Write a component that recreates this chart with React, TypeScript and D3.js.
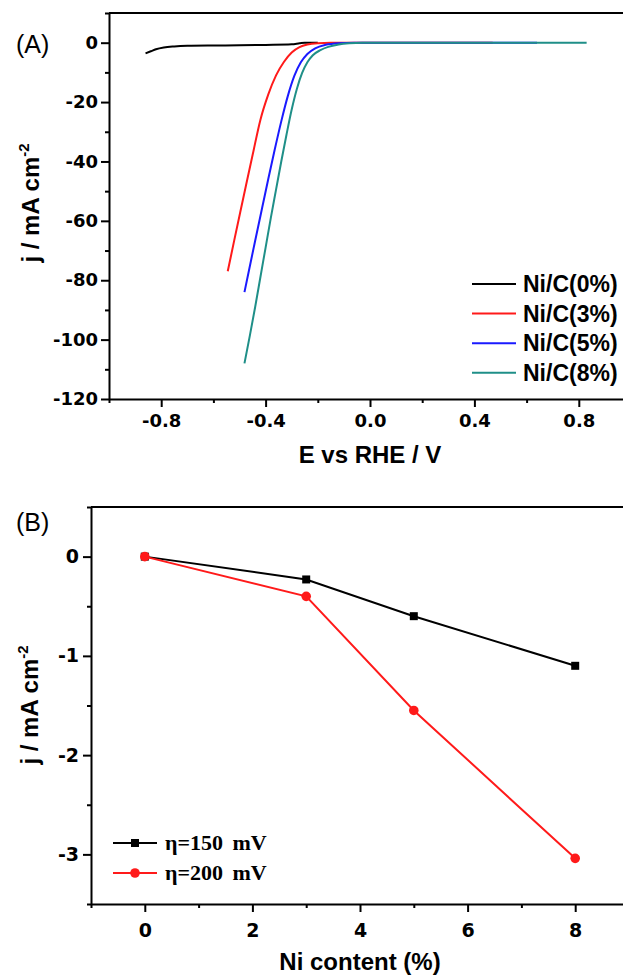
import * as d3 from "d3";
import React, { useEffect, useRef } from "react";

// panel A: polarization curves, E vs RHE (V) / j (mA cm-2)
const ePot0 = [-0.86, -0.84, -0.82, -0.79, -0.75, -0.7, -0.6, -0.5, -0.4, -0.3, -0.27, -0.25, -0.2];
const jCur0 = [-3.6, -2.9, -2.2, -1.6, -1.25, -1.05, -0.95, -0.9, -0.75, -0.55, -0.2, 0, 0];

const ePot3 = [-0.545, -0.52, -0.497, -0.475, -0.449, -0.42, -0.39, -0.36, -0.33, -0.3, -0.27, -0.24, -0.2, -0.15, 0.0, 0.47];
const jCur3 = [-77, -66.5, -57, -48, -37.5, -26, -17.5, -11, -6.5, -3.3, -1.5, -0.6, -0.15, 0, 0, 0];

const ePot5 = [-0.481, -0.464, -0.44, -0.413, -0.39, -0.365, -0.34, -0.315, -0.29, -0.265, -0.24, -0.21, -0.17, -0.12, -0.06, 0.0, 0.64];
const jCur5 = [-84, -76.8, -66.7, -55.5, -46, -36, -26.5, -18, -11.2, -6.6, -3.8, -1.9, -0.7, -0.15, 0, 0, 0];

const ePot8 = [-0.481, -0.46, -0.44, -0.42, -0.4, -0.38, -0.36, -0.34, -0.32, -0.3, -0.28, -0.26, -0.24, -0.22, -0.19, -0.16, -0.12, -0.08, -0.03, 0.0, 0.83];
const jCur8 = [-108, -98.5, -89, -79, -69, -59, -49.5, -40, -31, -22.5, -15.5, -10.2, -6.6, -4.3, -2.5, -1.4, -0.6, -0.2, 0, 0, 0];

const namesA = ["Ni/C(0%)", "Ni/C(3%)", "Ni/C(5%)", "Ni/C(8%)"];
const colorsA = ["#000000", "#ff1a1a", "#1a1aff", "#1f8f88"];

const xMajorA = [-0.8, -0.4, 0, 0.4, 0.8];
const xMinorA = [-1.0, -0.6, -0.2, 0.2, 0.6, 1.0];
const yMajorA = [-120, -100, -80, -60, -40, -20, 0];
const yMinorA = [-110, -90, -70, -50, -30, -10, 10];

// panel B: j at fixed overpotential vs Ni content
const niContent = [0, 3, 5, 8];
const j150 = [0, -0.23, -0.6, -1.1];
const j200 = [0, -0.4, -1.55, -3.04];
const namesB = ["η=150 mV", "η=200 mV"];

const xMajorB = [0, 2, 4, 6, 8];
const xMinorB = [-1, 1, 3, 5, 7, 9];
const yMajorB = [-3, -2, -1, 0];
const yMinorB = [-3.5, -2.5, -1.5, -0.5, 0.5];

const W = 623;
const H = 975;

function App() {
  const svgRef = useRef(null);

  useEffect(() => {
    const svg = d3.select(svgRef.current);
    svg.selectAll("*").remove();
    const sans = "'Liberation Sans', Arial, sans-serif";
    const tickFont = "'DejaVu Sans', sans-serif";

    const styleAxis = (sel, fs) => {
      sel.selectAll("path.domain").attr("stroke-width", 2).attr("stroke", "#000");
      sel.selectAll(".tick line").attr("stroke-width", 2).attr("stroke", "#000");
      sel
        .selectAll("text")
        .attr("font-family", tickFont)
        .attr("font-weight", "bold")
        .attr("font-size", fs)
        .attr("fill", "#000");
    };

    const drawFrame = (x, y, xMajor, xMinor, yMajor, yMinor, xFmt, fs, padX, padY) => {
      const [x0] = x.range();
      const [y0, y1] = y.range();
      const g = svg.append("g");
      g.append("g")
        .attr("transform", `translate(0,${y0})`)
        .call(d3.axisBottom(x).tickValues(xMinor).tickSize(4).tickSizeOuter(0).tickFormat(() => ""))
        .call((s) => s.select(".domain").remove())
        .call((s) => styleAxis(s, fs));
      g.append("g")
        .attr("transform", `translate(0,${y0})`)
        .call(d3.axisBottom(x).tickValues(xMajor).tickSize(8).tickSizeOuter(0).tickPadding(padX).tickFormat(xFmt))
        .call((s) => styleAxis(s, fs));
      g.append("g")
        .attr("transform", `translate(${x0},0)`)
        .call(d3.axisLeft(y).tickValues(yMinor).tickSize(4).tickSizeOuter(0).tickFormat(() => ""))
        .call((s) => s.select(".domain").remove())
        .call((s) => styleAxis(s, fs));
      g.append("g")
        .attr("transform", `translate(${x0},0)`)
        .call(d3.axisLeft(y).tickValues(yMajor).tickSize(8).tickSizeOuter(0).tickPadding(padY).tickFormat((d) => String(d)))
        .call((s) => styleAxis(s, fs));
      g.append("line")
        .attr("x1", x0)
        .attr("x2", W)
        .attr("y1", y1)
        .attr("y2", y1)
        .attr("stroke", "#000")
        .attr("stroke-width", 2);
    };

    const yTitle = (cx, cy) => {
      const t = svg
        .append("text")
        .attr("transform", `translate(${cx},${cy}) rotate(-90)`)
        .attr("text-anchor", "middle")
        .attr("font-family", sans)
        .attr("font-weight", "bold")
        .attr("font-size", 24);
      t.append("tspan").text("j / mA cm");
      t.append("tspan").attr("dy", "-0.7em").attr("font-size", 15).text("-2");
    };

    // ---------- panel A ----------
    const xA = d3.scaleLinear().domain([-1, 1]).range([109, 631]);
    const yA = d3.scaleLinear().domain([-120, 10]).range([399, 13]);
    drawFrame(xA, yA, xMajorA, xMinorA, yMajorA, yMinorA, (d) => d.toFixed(1), 18, 7, 3);

    const seriesA = [
      [ePot0, jCur0],
      [ePot3, jCur3],
      [ePot5, jCur5],
      [ePot8, jCur8],
    ];
    const lineA = d3
      .line()
      .x((d) => xA(d[0]))
      .y((d) => yA(d[1]))
      .curve(d3.curveMonotoneX);
    seriesA.forEach(([es, js], i) => {
      svg
        .append("path")
        .datum(es.map((e, k) => [e, js[k]]))
        .attr("fill", "none")
        .attr("stroke", colorsA[i])
        .attr("stroke-width", 2)
        .attr("d", lineA);
    });

    const legA = svg.append("g");
    namesA.forEach((n, i) => {
      const ly = 284 + i * 29.6;
      legA.append("line").attr("x1", 472).attr("x2", 516).attr("y1", ly).attr("y2", ly).attr("stroke", colorsA[i]).attr("stroke-width", 2);
      legA
        .append("text")
        .attr("x", 523)
        .attr("y", ly)
        .attr("dy", "0.36em")
        .attr("font-family", sans)
        .attr("font-weight", "bold")
        .attr("font-size", 23)
        .text(n);
    });

    svg.append("text").attr("x", 16).attr("y", 53).attr("font-family", sans).attr("font-size", 25).text("(A)");
    svg
      .append("text")
      .attr("x", xA(0))
      .attr("y", 463)
      .attr("text-anchor", "middle")
      .attr("font-family", sans)
      .attr("font-weight", "bold")
      .attr("font-size", 24)
      .text("E vs RHE / V");
    yTitle(39, 203);

    // ---------- panel B ----------
    const xB = d3.scaleLinear().domain([-1, 9]).range([91, 629]);
    const yB = d3.scaleLinear().domain([-3.5, 0.5]).range([904, 507]);
    drawFrame(xB, yB, xMajorB, xMinorB, yMajorB, yMinorB, (d) => String(d), 19, 12, 4);

    const lineB = d3
      .line()
      .x((d) => xB(d[0]))
      .y((d) => yB(d[1]));
    const p150 = niContent.map((c, i) => [c, j150[i]]);
    const p200 = niContent.map((c, i) => [c, j200[i]]);

    svg.append("path").datum(p150).attr("fill", "none").attr("stroke", "#000").attr("stroke-width", 2).attr("d", lineB);
    svg
      .selectAll(".sq")
      .data(p150)
      .join("rect")
      .attr("class", "sq")
      .attr("x", (d) => xB(d[0]) - 4)
      .attr("y", (d) => yB(d[1]) - 4)
      .attr("width", 8)
      .attr("height", 8)
      .attr("fill", "#000");

    svg.append("path").datum(p200).attr("fill", "none").attr("stroke", "#ff1a1a").attr("stroke-width", 2).attr("d", lineB);
    svg
      .selectAll(".dot")
      .data(p200)
      .join("circle")
      .attr("class", "dot")
      .attr("cx", (d) => xB(d[0]))
      .attr("cy", (d) => yB(d[1]))
      .attr("r", 4.8)
      .attr("fill", "#ff1a1a");

    const legB = svg.append("g");
    namesB.forEach((n, i) => {
      const ly = 843 + i * 30;
      const col = i === 0 ? "#000" : "#ff1a1a";
      legB.append("line").attr("x1", 113).attr("x2", 157).attr("y1", ly).attr("y2", ly).attr("stroke", col).attr("stroke-width", 2);
      if (i === 0) {
        legB.append("rect").attr("x", 131).attr("y", ly - 4).attr("width", 8).attr("height", 8).attr("fill", col);
      } else {
        legB.append("circle").attr("cx", 135).attr("cy", ly).attr("r", 4.8).attr("fill", col);
      }
      legB
        .append("text")
        .attr("x", 165)
        .attr("y", ly)
        .attr("dy", "0.34em")
        .attr("font-family", "'Liberation Serif', 'Times New Roman', serif")
        .attr("font-weight", "bold")
        .attr("font-size", 22)
        .attr("word-spacing", 4)
        .text(n);
    });

    svg.append("text").attr("x", 16).attr("y", 531).attr("font-family", sans).attr("font-size", 25).text("(B)");
    svg
      .append("text")
      .attr("x", xB(4))
      .attr("y", 970)
      .attr("text-anchor", "middle")
      .attr("font-family", sans)
      .attr("font-weight", "bold")
      .attr("font-size", 24)
      .text("Ni content (%)");
    yTitle(38, 705);
  }, []);

  return (
    <svg
      ref={svgRef}
      width={W}
      height={H}
      style={{ position: "absolute", left: 0, top: 0, background: "#fff", overflow: "hidden" }}
    />
  );
}

export default App;
